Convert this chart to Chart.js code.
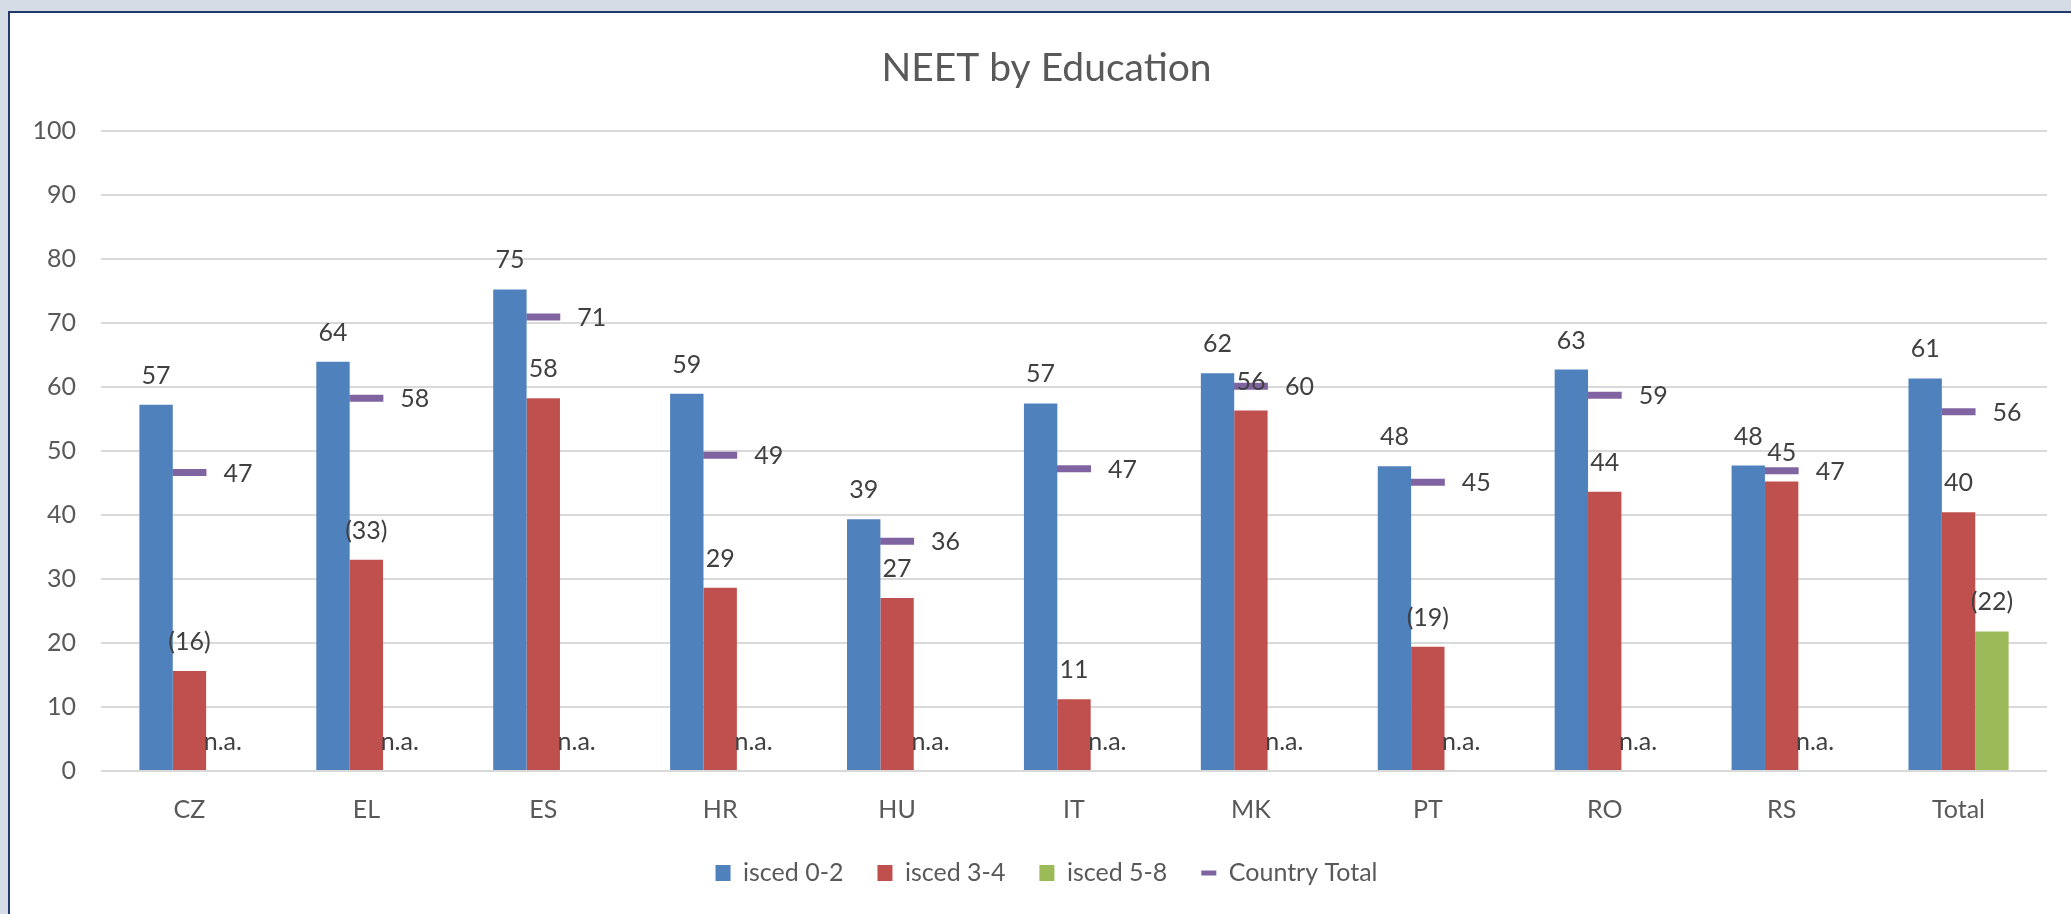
<!DOCTYPE html>
<html>
<head>
<meta charset="utf-8">
<title>NEET by Education</title>
<script src="https://cdn.jsdelivr.net/npm/chart.js@4.4.1/dist/chart.umd.min.js"></script>
<style>
  html, body { margin: 0; padding: 0; width: 2071px; height: 914px; overflow: hidden; background: #d6dce5; }
  #frame { position: absolute; left: 8px; top: 11px; width: 2070px; height: 910px; background: #fff;
           border-left: 2px solid #22396b; border-top: 2px solid #22396b; }
  #wrap { position: absolute; left: 11px; top: 14px; width: 2060px; height: 900px; }
</style>
</head>
<body>
<div id="frame"></div>
<div id="wrap"><canvas id="chart"></canvas></div>
<script>
const categories = ["CZ", "EL", "ES", "HR", "HU", "IT", "MK", "PT", "RO", "RS", "Total"];

const isced02 = [57.2, 63.9, 75.2, 58.9, 39.3, 57.4, 62.1, 47.6, 62.7, 47.7, 61.3];
const isced34 = [15.6, 33.0, 58.2, 28.6, 27.0, 11.2, 56.3, 19.4, 43.6, 45.2, 40.4];
const isced58 = [null, null, null, null, null, null, null, null, null, null, 21.8];
const countryTotal = [46.6, 58.2, 70.9, 49.3, 35.9, 47.2, 60.1, 45.1, 58.7, 46.9, 56.1];

// values shown in brackets in the source (low reliability)
const bracket34 = [true, true, false, false, false, false, false, true, false, false, false];
const bracket58 = [false, false, false, false, false, false, false, false, false, false, true];

const yTicks = [0, 10, 20, 30, 40, 50, 60, 70, 80, 90, 100];

const COLORS = {
  low: "#4F81BD",
  mid: "#C0504D",
  high: "#9BBB59",
  total: "#8064A2",
  text: "#595959",
  label: "#404040",
  grid: "#d9d9d9"
};

Chart.defaults.font.family = "Lato, 'Open Sans', sans-serif";

function fmt(v, bracket) {
  if (v === null || v === undefined) return "n.a.";
  const n = Math.round(v);
  return bracket ? `(${n})` : `${n}`;
}

// draws the data labels (no datalabels plugin offline)
const valueLabels = {
  id: "valueLabels",
  afterDatasetsDraw(chart) {
    const { ctx } = chart;
    const y0 = chart.scales.y.getPixelForValue(0);
    ctx.save();
    ctx.font = "25px Lato, 'Open Sans', sans-serif";
    ctx.fillStyle = COLORS.label;
    chart.data.datasets.forEach((ds, i) => {
      const meta = chart.getDatasetMeta(i);
      if (meta.hidden) return;
      meta.data.forEach((el, j) => {
        const v = ds.data[j];
        if (ds.type === "line") {
          ctx.textAlign = "left";
          ctx.textBaseline = "middle";
          ctx.fillText(fmt(v, false), el.x + 34, el.y + 1);
        } else {
          const flags = ds.brackets || [];
          const top = (v === null) ? y0 : el.y;
          ctx.textAlign = "center";
          ctx.textBaseline = "alphabetic";
          ctx.fillText(fmt(v, flags[j]), el.x, top - 21);
        }
      });
    });
    ctx.restore();
  }
};

new Chart(document.getElementById("chart").getContext("2d"), {
  type: "bar",
  data: {
    labels: categories,
    datasets: [
      { label: "isced 0-2", data: isced02, backgroundColor: COLORS.low, borderWidth: 0, pointStyle: "rect" },
      { label: "isced 3-4", data: isced34, backgroundColor: COLORS.mid, borderWidth: 0, pointStyle: "rect", brackets: bracket34 },
      { label: "isced 5-8", data: isced58, backgroundColor: COLORS.high, borderWidth: 0, pointStyle: "rect", brackets: bracket58 },
      {
        type: "line",
        label: "Country Total",
        data: countryTotal,
        showLine: false,
        pointStyle: "line",
        pointRadius: 17,
        pointHoverRadius: 17,
        pointBorderWidth: 7,
        pointBorderColor: COLORS.total,
        pointBackgroundColor: COLORS.total,
        borderColor: COLORS.total,
        backgroundColor: COLORS.total
      }
    ]
  },
  options: {
    responsive: true,
    maintainAspectRatio: false,
    animation: false,
    layout: { padding: { left: 18, right: 7, top: 0, bottom: 18.5 } },
    datasets: {
      bar: { categoryPercentage: 0.566, barPercentage: 1 }
    },
    plugins: {
      title: {
        display: true,
        text: "NEET by Education",
        color: COLORS.text,
        font: { size: 39, weight: "normal" },
        padding: { top: 30.6, bottom: 39.3 }
      },
      legend: {
        position: "bottom",
        labels: {
          usePointStyle: true,
          pointStyleWidth: 15,
          boxHeight: 16,
          padding: 34,
          color: COLORS.text,
          font: { size: 25 },
          generateLabels(chart) {
            const items = Chart.defaults.plugins.legend.labels.generateLabels(chart);
            items.forEach(it => { if (it.pointStyle === "line") it.lineWidth = 5; });
            return items;
          }
        }
      },
      tooltip: { enabled: false }
    },
    scales: {
      x: {
        grid: { display: false },
        border: { display: false },
        ticks: { color: COLORS.text, font: { size: 25 }, padding: 16 },
        afterFit(s) { s.height = 55.5; }
      },
      y: {
        min: yTicks[0],
        max: yTicks[yTicks.length - 1],
        afterBuildTicks(s) { s.ticks = yTicks.map(v => ({ value: v })); },
        grid: { color: COLORS.grid, lineWidth: 2, drawTicks: false },
        border: { display: false },
        ticks: { color: COLORS.text, font: { size: 25 }, padding: 25 },
        afterFit(s) { s.width = 72; }
      }
    }
  },
  plugins: [valueLabels]
});
</script>
</body>
</html>
